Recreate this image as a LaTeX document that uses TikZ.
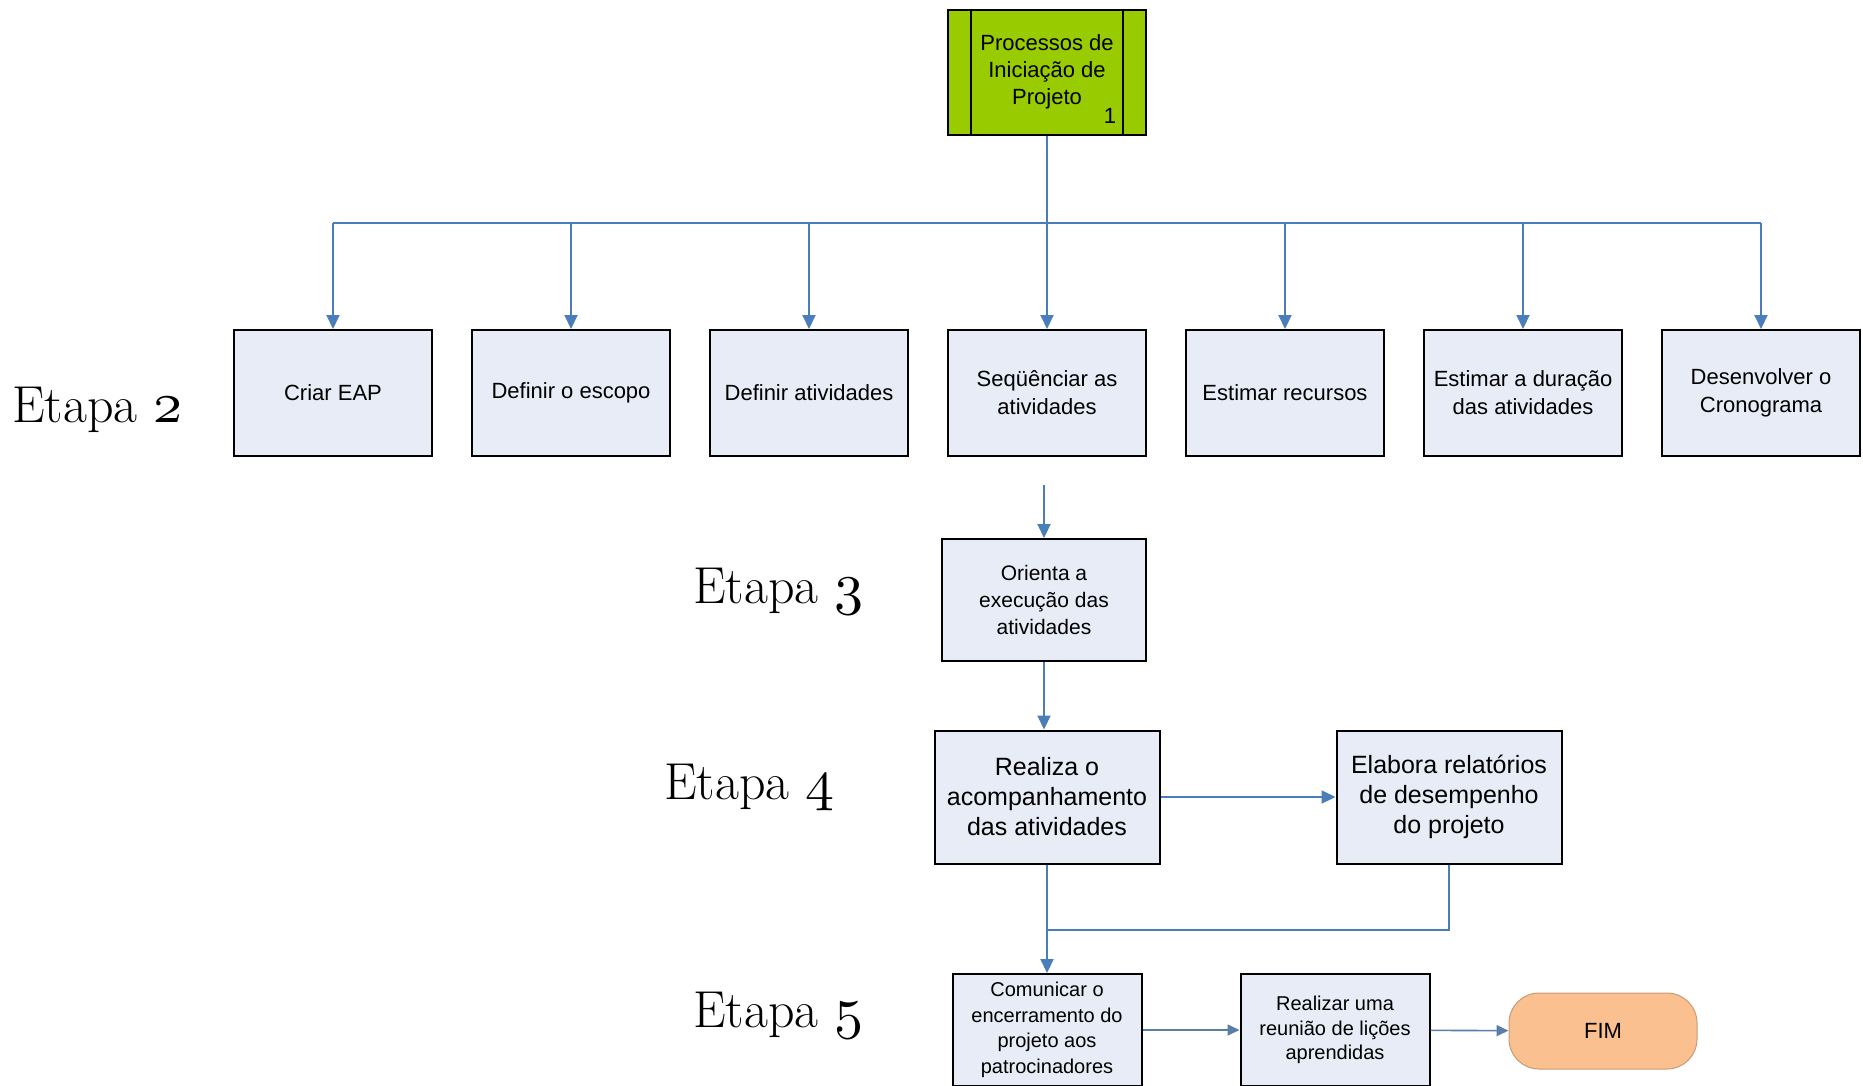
\documentclass[tikz,border=0pt]{standalone}
\usepackage{graphicx}
\usepackage{fontspec}
\newfontfamily\arialfont{Liberation Sans}
\usetikzlibrary{positioning,arrows.meta}

\definecolor{linkblue}{RGB}{74,126,187}
\definecolor{boxfill}{RGB}{231,236,246}
\definecolor{initgreen}{RGB}{153,204,0}
\definecolor{endorange}{RGB}{250,192,144}
\newcommand{\oldnum}[1]{\scalebox{5.8}{\fontsize{10}{12}\usefont{OML}{cmm}{m}{it}#1}}

\begin{document}
\begin{tikzpicture}[x=1pt,y=-1pt]
    \tikzstyle{every node}=[inner sep=0,align=center]
    \tikzstyle{task}=[draw=black,line width=2,fill=boxfill,rectangle,minimum width=198,minimum height=126,font=\arialfont\fontsize{22}{28}\selectfont]
    \tikzstyle{bigtask}=[task,minimum width=225,minimum height=133,font=\arialfont\fontsize{25}{30}\selectfont]
    \tikzstyle{smalltask}=[task,minimum width=189,minimum height=112,font=\arialfont\fontsize{20}{25.5}\selectfont]
    \tikzstyle{etapa}=[anchor=base west,font=\rmfamily\fontsize{52}{56}\selectfont]
    \tikzstyle{link}=[draw=linkblue,line width=2]
    \tikzstyle{flow}=[link,-{Triangle[width=13,length=14]}]
    \tikzstyle{thinflow}=[draw=linkblue!70!gray,line width=1.6,-{Triangle[width=11,length=12]}]
    \useasboundingbox (0,0) rectangle (1863,1085);
    {
        % inicio
        \node[task,fill=initgreen,minimum height=125,font=\arialfont\fontsize{22}{27}\selectfont] (proc) at (1047,72) {Processos de\\Iniciação de\\Projeto};
        \draw[line width=2] ([xshift=24]proc.north west) -- ([xshift=24]proc.south west);
        \draw[line width=2] ([xshift=-24]proc.north east) -- ([xshift=-24]proc.south east);
        \node[font=\arialfont\fontsize{22}{22}\selectfont] (procnum) at (1110,116) {1};

        % etapa 2
        \node[task] (eap) at (333,393) {Criar EAP};
        \node[task,right=38 of eap] (escopo) {Definir o escopo};
        \node[task,right=38 of escopo] (ativ) {Definir atividades};
        \node[task,right=38 of ativ] (seq) {Seqüênciar as\\atividades};
        \node[task,right=38 of seq] (recursos) {Estimar recursos};
        \node[task,right=38 of recursos] (duracao) {Estimar a duração\\das atividades};
        \node[task,right=38 of duracao] (crono) {Desenvolver o\\Cronograma};

        \coordinate (bus) at (1047,223);
        \draw[link] (proc.south) -- (bus);
        \draw[link] (eap.north |- bus) -- (crono.north |- bus);
        \foreach \n in {eap,escopo,ativ,seq,recursos,duracao,crono}
            \draw[flow] (\n.north |- bus) -- (\n.north);

        % etapa 3
        \node[task,minimum width=204,minimum height=122,font=\arialfont\fontsize{21}{27}\selectfont] (orienta) at (1044,600) {Orienta a\\execução das\\atividades};
        \coordinate (s3) at (1044,485);
        \draw[flow] (s3) -- (orienta.north);

        % etapa 4
        \node[bigtask] (realiza) at (1047,797) {Realiza o\\acompanhamento\\das atividades};
        \node[bigtask,right=175 of realiza] (elabora) {Elabora relatórios\\de desempenho\\do projeto};
        \draw[flow] (orienta.south) -- (orienta.south |- realiza.north);
        \draw[flow] (realiza) -- (elabora);

        % etapa 5
        \node[smalltask] (comunica) at (1047,1030) {Comunicar o\\encerramento do\\projeto aos\\patrocinadores};
        \node[smalltask,right=97 of comunica,font=\arialfont\fontsize{20}{24.5}\selectfont] (licoes) {Realizar uma\\reunião de lições\\aprendidas};
        \node[draw=endorange!80!black,line width=1,fill=endorange,rounded corners=30,minimum width=188,minimum height=76,font=\arialfont\fontsize{22}{22}\selectfont] (fim) at (1603,1031) {FIM};

        \coordinate (join) at (1047,930);
        \draw[link] (realiza.south) -- (join);
        \draw[link] (elabora.south) |- (join);
        \draw[flow] (join) -- (join |- comunica.north);
        \draw[thinflow] (comunica) -- (licoes);
        \draw[thinflow] (licoes) -- (fim);

        % etapas
        \node[etapa] (et2) at (12,422) {Etapa \oldnum{2}};
        \node[etapa] (et3) at (693,603) {Etapa \oldnum{3}};
        \node[etapa] (et4) at (664,799) {Etapa \oldnum{4}};
        \node[etapa] (et5) at (693,1027) {Etapa \oldnum{5}};
    }
\end{tikzpicture}
\end{document}
